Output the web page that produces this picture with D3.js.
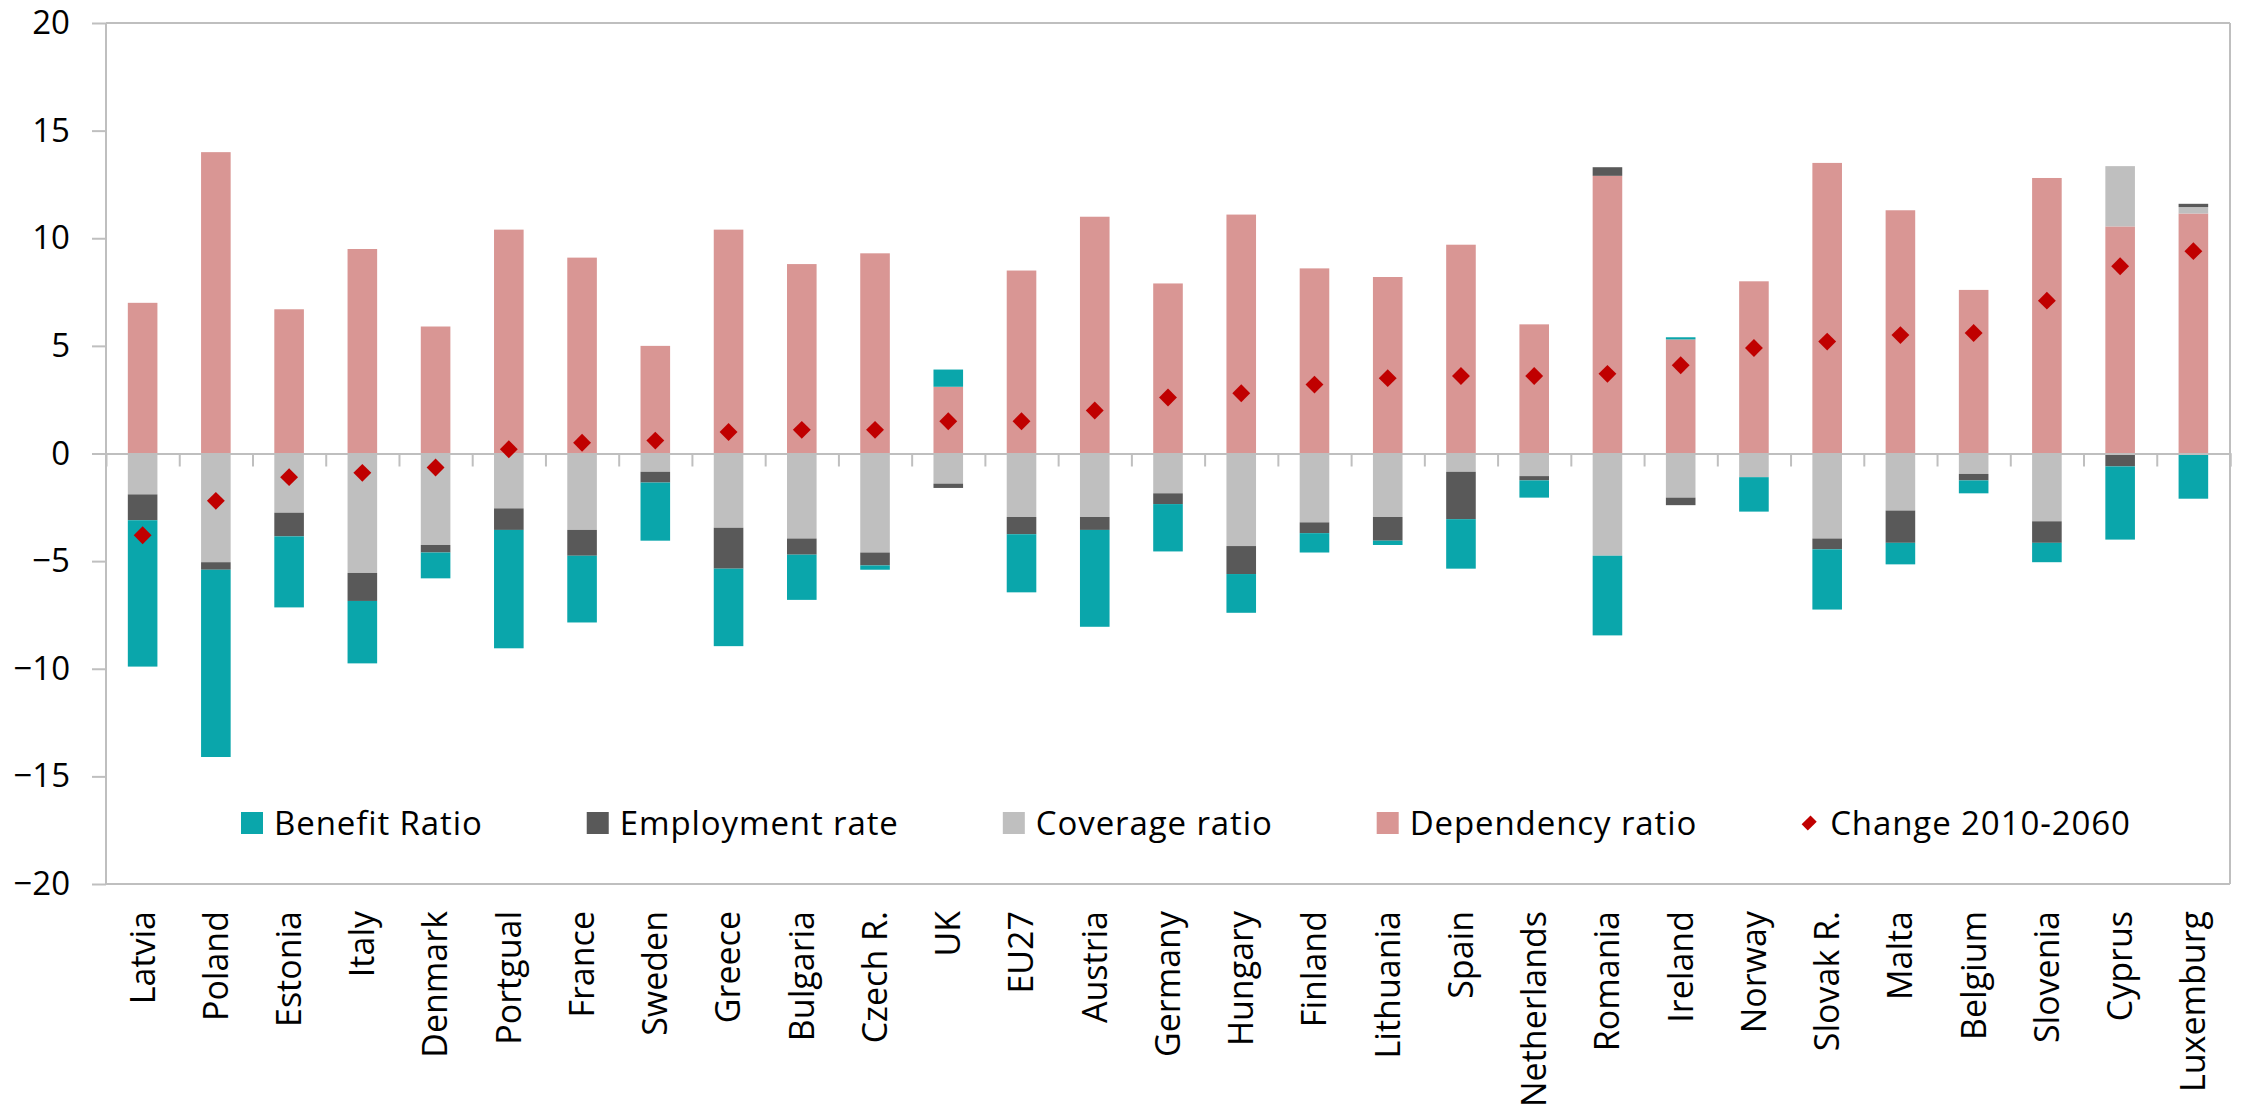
<!DOCTYPE html>
<html>
<head>
<meta charset="utf-8">
<script src="https://cdn.jsdelivr.net/npm/d3@7"></script>
<style>
  body { margin: 0; background: #fff; }
  text { font-family: "Open Sans", sans-serif; }
</style>
</head>
<body>
<div id="chart"></div>
<script>
// values
var countries = ["Latvia", "Poland", "Estonia", "Italy", "Denmark", "Portgual", "France", "Sweden",
  "Greece", "Bulgaria", "Czech R.", "UK", "EU27", "Austria", "Germany", "Hungary", "Finland",
  "Lithuania", "Spain", "Netherlands", "Romania", "Ireland", "Norway", "Slovak R.", "Malta",
  "Belgium", "Slovenia", "Cyprus", "Luxemburg"];

var dependencyRatio = [7.0, 14.0, 6.7, 9.5, 5.9, 10.4, 9.1, 5.0, 10.4, 8.8, 9.3, 3.1, 8.5, 11.0,
  7.9, 11.1, 8.6, 8.2, 9.7, 6.0, 12.9, 5.3, 8.0, 13.5, 11.3, 7.6, 12.8, 10.55, 11.15];
var coverageRatio = [-1.9, -5.05, -2.75, -5.55, -4.25, -2.55, -3.55, -0.85, -3.45, -3.95, -4.6,
  -1.4, -2.95, -2.95, -1.85, -4.3, -3.2, -2.95, -0.85, -1.05, -4.75, -2.05, -1.1, -3.95, -2.65,
  -0.95, -3.15, 2.8, 0.3];
var employmentRate = [-1.2, -0.35, -1.1, -1.3, -0.35, -1.0, -1.2, -0.5, -1.9, -0.75, -0.6, -0.2,
  -0.8, -0.6, -0.5, -1.3, -0.5, -1.1, -2.2, -0.2, 0.4, -0.35, 0, -0.5, -1.5, -0.3, -1.0, -0.6, 0.15];
var benefitRatio = [-6.8, -8.7, -3.3, -2.9, -1.2, -5.5, -3.1, -2.7, -3.6, -2.1, -0.2, 0.8, -2.7,
  -4.5, -2.2, -1.8, -0.9, -0.2, -2.3, -0.8, -3.7, 0.1, -1.6, -2.8, -1.0, -0.6, -0.9, -3.4, -2.1];
var change20102060 = [-3.8, -2.2, -1.1, -0.9, -0.65, 0.2, 0.5, 0.6, 1.0, 1.1, 1.1, 1.5, 1.5, 2.0,
  2.6, 2.8, 3.2, 3.5, 3.6, 3.6, 3.7, 4.1, 4.9, 5.2, 5.5, 5.6, 7.1, 8.7, 9.4];

var yTicks = [-20, -15, -10, -5, 0, 5, 10, 15, 20];

var seriesKeys = ["dependency", "coverage", "employment", "benefit"];
var seriesColor = {
  benefit: "#0aa6ab",
  employment: "#595959",
  coverage: "#bfbfbf",
  dependency: "#d99694"
};
var legendItems = [
  { key: "benefit", label: "Benefit Ratio" },
  { key: "employment", label: "Employment rate" },
  { key: "coverage", label: "Coverage ratio" },
  { key: "dependency", label: "Dependency ratio" },
  { key: "change", label: "Change 2010-2060" }
];

var svgWidth = 2244, svgHeight = 1106;
var margin = { top: 23, right: 14, bottom: 222, left: 106 };
var width = svgWidth - margin.left - margin.right;
var height = svgHeight - margin.top - margin.bottom;
var axisColor = "#bfbfbf";

var svg = d3.select("#chart").append("svg")
  .attr("width", svgWidth)
  .attr("height", svgHeight);

var g = svg.append("g")
  .attr("transform", `translate(${margin.left}, ${margin.top})`);

var rows = countries.map((c, i) => ({
  country: c,
  dependency: dependencyRatio[i],
  coverage: coverageRatio[i],
  employment: employmentRate[i],
  benefit: benefitRatio[i],
  change: change20102060[i]
}));

var x = d3.scaleBand()
  .domain(countries)
  .range([0, width])
  .paddingInner(0.596)
  .paddingOuter(0.298);

var y = d3.scaleLinear()
  .domain([-20, 20])
  .range([height, 0]);

// plot border (top, right, bottom)
g.append("line").attr("x1", 0).attr("x2", width).attr("y1", 0).attr("y2", 0)
  .attr("stroke", axisColor).attr("stroke-width", 2);
g.append("line").attr("x1", width).attr("x2", width).attr("y1", 0).attr("y2", height)
  .attr("stroke", axisColor).attr("stroke-width", 2);
g.append("line").attr("x1", 0).attr("x2", width).attr("y1", height).attr("y2", height)
  .attr("stroke", axisColor).attr("stroke-width", 2);

// stacked bars
var stacked = d3.stack()
  .keys(seriesKeys)
  .offset(d3.stackOffsetDiverging)(rows);

g.selectAll("g.series")
  .data(stacked)
  .enter()
  .append("g")
  .attr("class", "series")
  .attr("fill", d => seriesColor[d.key])
  .selectAll("rect")
  .data(d => d)
  .enter()
  .append("rect")
  .attr("x", d => x(d.data.country))
  .attr("width", x.bandwidth())
  .attr("y", d => y(Math.max(d[0], d[1])))
  .attr("height", d => Math.abs(y(d[0]) - y(d[1])));

// y axis
var leftAxis = d3.axisLeft(y)
  .tickValues(yTicks)
  .tickSize(14)
  .tickPadding(22)
  .tickFormat(d3.format("d"));

var yAxisG = g.append("g").call(leftAxis);
yAxisG.select(".domain").attr("stroke", axisColor).attr("stroke-width", 2)
  .attr("d", `M0,0V${height}`);
yAxisG.selectAll(".tick line").attr("stroke", axisColor).attr("stroke-width", 2);
yAxisG.selectAll(".tick text")
  .attr("fill", "#000")
  .style("font-family", "'Open Sans', sans-serif")
  .style("font-size", "33px");

// zero line with category ticks
var zeroAxis = d3.axisBottom(d3.scaleLinear().domain([0, countries.length]).range([0, width]))
  .tickValues(d3.range(1, countries.length + 1))
  .tickSize(13)
  .tickFormat("");
var zeroG = g.append("g")
  .attr("transform", `translate(0, ${y(0)})`)
  .call(zeroAxis);
zeroG.select(".domain").attr("stroke", axisColor).attr("stroke-width", 2);
zeroG.selectAll(".tick line").attr("stroke", axisColor).attr("stroke-width", 2);

// change markers
var diamond = d3.symbol().type(d3.symbolSquare).size(160);
g.selectAll("path.change")
  .data(rows)
  .enter()
  .append("path")
  .attr("class", "change")
  .attr("d", diamond)
  .attr("fill", "#c00000")
  .attr("transform", d => `translate(${x(d.country) + x.bandwidth() / 2}, ${y(d.change)}) rotate(45)`);

// category labels
g.selectAll("text.country")
  .data(countries)
  .enter()
  .append("text")
  .attr("class", "country")
  .attr("transform", d => `translate(${x(d) + x.bandwidth() / 2}, ${height + 27}) rotate(-90)`)
  .attr("text-anchor", "end")
  .attr("dy", "0.35em")
  .style("font-size", "34px")
  .text(d => d);

// legend
var legend = g.append("g")
  .attr("transform", `translate(${241 - margin.left}, ${823 - margin.top})`);
var lx = 0;
legendItems.forEach(item => {
  var it = legend.append("g").attr("transform", `translate(${lx}, 0)`);
  var textX;
  if (item.key === "change") {
    it.append("path")
      .attr("d", d3.symbol().type(d3.symbolSquare).size(120))
      .attr("fill", "#c00000")
      .attr("transform", "translate(8, 0) rotate(45) scale(0.8, 1.15)");
    textX = 29;
  } else {
    it.append("rect")
      .attr("x", 0).attr("y", -11)
      .attr("width", 22).attr("height", 22)
      .attr("fill", seriesColor[item.key]);
    textX = 33;
  }
  var t = it.append("text")
    .attr("x", textX)
    .attr("dy", "0.35em")
    .style("font-size", "33px")
    .style("letter-spacing", "0.9px")
    .text(item.label);
  lx += textX + t.node().getComputedTextLength() + 104;
});
</script>
</body>
</html>
